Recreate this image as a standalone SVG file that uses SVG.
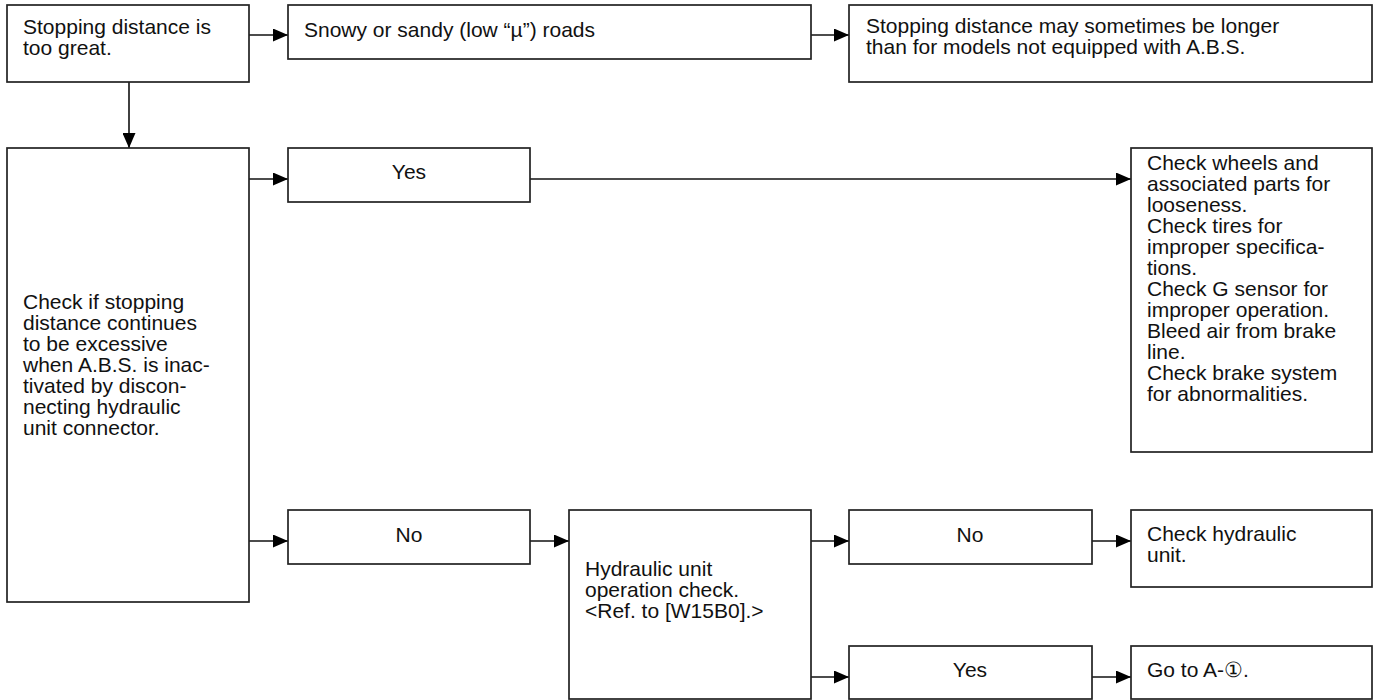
<svg xmlns="http://www.w3.org/2000/svg" width="1377" height="700" viewBox="0 0 1377 700">
<style>
.box{fill:#fff;stroke:#222;stroke-width:1.7}
.t{font-family:"Liberation Sans",Arial,sans-serif;font-size:21px;fill:#111}
.c{text-anchor:middle}
.ln{stroke:#111;stroke-width:1.6;fill:none;marker-end:url(#ah)}
</style>
<defs>
<marker id="ah" markerUnits="userSpaceOnUse" markerWidth="16" markerHeight="13" refX="15" refY="6.5" orient="auto">
<path d="M0,0 L15,6.5 L0,13 z" fill="#000"/>
</marker>
</defs>
<rect width="1377" height="700" fill="#fff"/>
<g id="connectors">
<line class="ln" x1="249" y1="35" x2="288" y2="35"/>
<line class="ln" x1="811" y1="35" x2="849" y2="35"/>
<line class="ln" x1="129" y1="82" x2="129" y2="148"/>
<line class="ln" x1="249" y1="179" x2="288" y2="179"/>
<line class="ln" x1="530" y1="179" x2="1131" y2="179"/>
<line class="ln" x1="249" y1="541" x2="288" y2="541"/>
<line class="ln" x1="530" y1="541" x2="569" y2="541"/>
<line class="ln" x1="811" y1="541" x2="849" y2="541"/>
<line class="ln" x1="1092" y1="541" x2="1131" y2="541"/>
<line class="ln" x1="811" y1="677" x2="849" y2="677"/>
<line class="ln" x1="1092" y1="677" x2="1131" y2="677"/>
</g>
<g id="nA">
<rect class="box" x="7" y="5" width="242" height="77"/>
<text class="t" x="23" y="34">Stopping distance is</text>
<text class="t" x="23" y="55">too great.</text>
</g>
<g id="nB">
<rect class="box" x="288" y="5" width="523" height="54"/>
<text class="t" x="304" y="37">Snowy or sandy (low “µ”) roads</text>
</g>
<g id="nC">
<rect class="box" x="849" y="5" width="523" height="77"/>
<text class="t" x="866" y="33">Stopping distance may sometimes be longer</text>
<text class="t" x="866" y="54">than for models not equipped with A.B.S.</text>
</g>
<g id="nD">
<rect class="box" x="7" y="148" width="242" height="454"/>
<text class="t" x="23" y="309">Check if stopping</text>
<text class="t" x="23" y="330">distance continues</text>
<text class="t" x="23" y="351">to be excessive</text>
<text class="t" x="23" y="372">when A.B.S. is inac-</text>
<text class="t" x="23" y="393">tivated by discon-</text>
<text class="t" x="23" y="414">necting hydraulic</text>
<text class="t" x="23" y="435">unit connector.</text>
</g>
<g id="nYes1">
<rect class="box" x="288" y="148" width="242" height="54"/>
<text class="t c" x="409" y="179">Yes</text>
</g>
<g id="nE">
<rect class="box" x="1131" y="148" width="241" height="304"/>
<text class="t" x="1147" y="170">Check wheels and</text>
<text class="t" x="1147" y="191">associated parts for</text>
<text class="t" x="1147" y="212">looseness.</text>
<text class="t" x="1147" y="233">Check tires for</text>
<text class="t" x="1147" y="254">improper specifica-</text>
<text class="t" x="1147" y="275">tions.</text>
<text class="t" x="1147" y="296">Check G sensor for</text>
<text class="t" x="1147" y="317">improper operation.</text>
<text class="t" x="1147" y="338">Bleed air from brake</text>
<text class="t" x="1147" y="359">line.</text>
<text class="t" x="1147" y="380">Check brake system</text>
<text class="t" x="1147" y="401">for abnormalities.</text>
</g>
<g id="nNo1">
<rect class="box" x="288" y="510" width="242" height="54"/>
<text class="t c" x="409" y="542">No</text>
</g>
<g id="nH">
<rect class="box" x="569" y="510" width="242" height="189"/>
<text class="t" x="585" y="576">Hydraulic unit</text>
<text class="t" x="585" y="597">operation check.</text>
<text class="t" x="585" y="618">&lt;Ref. to [W15B0].&gt;</text>
</g>
<g id="nNo2">
<rect class="box" x="849" y="510" width="243" height="54"/>
<text class="t c" x="970" y="542">No</text>
</g>
<g id="nCheckH">
<rect class="box" x="1131" y="510" width="241" height="77"/>
<text class="t" x="1147" y="541">Check hydraulic</text>
<text class="t" x="1147" y="562">unit.</text>
</g>
<g id="nYes2">
<rect class="box" x="849" y="646" width="243" height="53"/>
<text class="t c" x="970" y="677">Yes</text>
</g>
<g id="nGo">
<rect class="box" x="1131" y="646" width="241" height="53"/>
<text class="t" x="1147" y="677">Go to A-①.</text>
</g>
</svg>
